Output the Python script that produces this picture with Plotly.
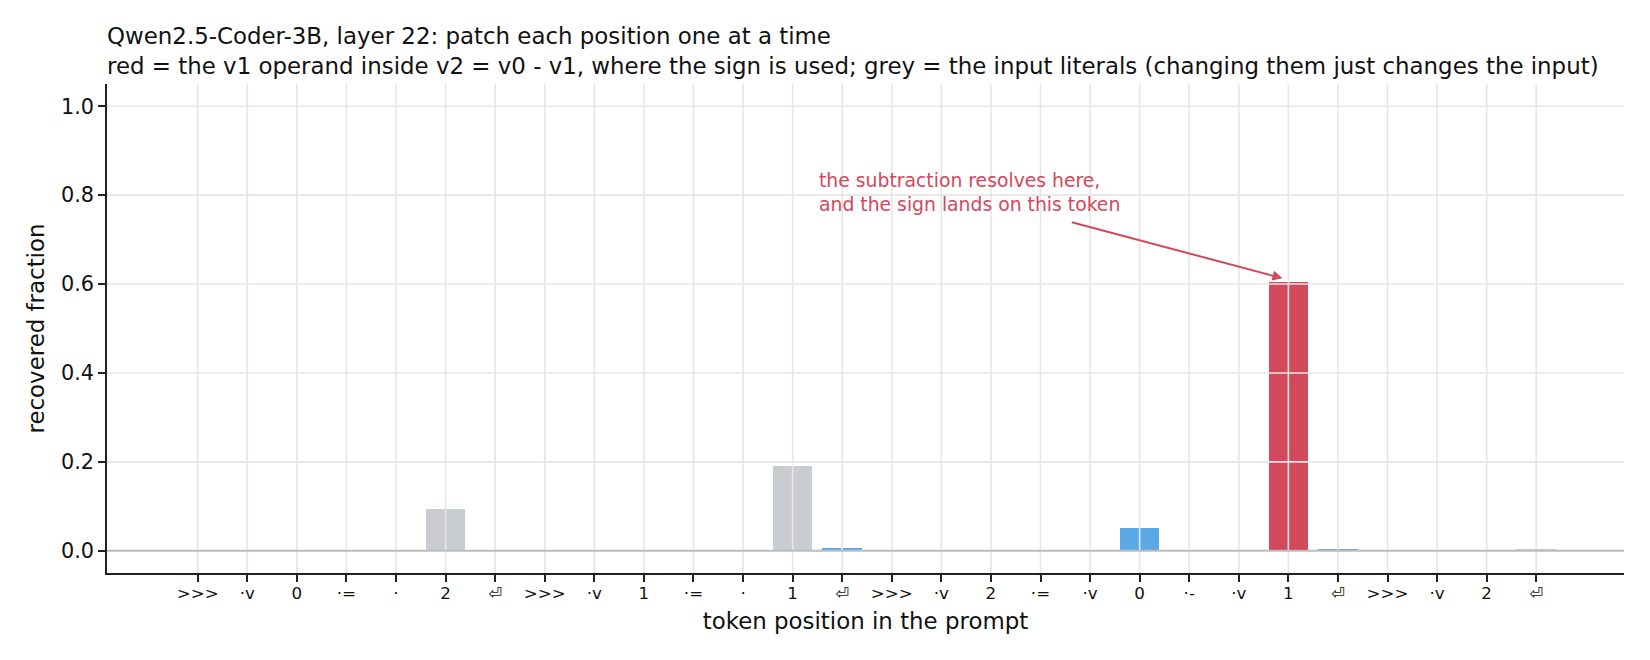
import plotly.graph_objects as go

# token positions in the prompt, one bar each
tokens = [">>>", "·v", "0", "·=", "·", "2", "⏎",
          ">>>", "·v", "1", "·=", "·", "1", "⏎",
          ">>>", "·v", "2", "·=", "·v", "0", "·-", "·v", "1", "⏎",
          ">>>", "·v", "2", "⏎"]
recovered = [0.0, 0.0, 0.0, 0.0, 0.0, 0.094, 0.0,
             0.0, 0.0, 0.0, 0.0, 0.0, 0.190, 0.006,
             0.0, 0.0, 0.0, 0.0, 0.0, 0.051, 0.0, 0.0, 0.604, 0.004,
             0.0, 0.0, 0.0, 0.003]
roles = ["other", "other", "other", "other", "other", "literal", "other",
         "other", "other", "other", "other", "other", "literal", "other",
         "other", "other", "other", "other", "other", "other", "other", "other", "sign", "other",
         "other", "other", "other", "literal"]
y_ticks = [0.0, 0.2, 0.4, 0.6, 0.8, 1.0]

role_colors = {"other": "#5aa9e6", "literal": "#c9ccd1", "sign": "#d1495b"}
RED = "#d1495b"
FONT = "DejaVu Sans"
PAGE_PAD = 8  # browser body margin shifts the figure, compensate in the margins
positions = list(range(len(tokens)))

fig = go.Figure()
fig.add_trace(go.Bar(
    x=positions, y=recovered, width=0.8,
    marker=dict(color=[role_colors[r] for r in roles], line=dict(width=0)),
    hoverinfo="skip",
))

# matplotlib-style grid drawn on top of the bars
grid = dict(color="#e6e6e6", width=1.6)
shapes = []
for p in positions:
    shapes.append(dict(type="line", xref="x", yref="paper", x0=p, x1=p, y0=0, y1=1,
                       line=grid, layer="above"))
for t in y_ticks[1:]:
    shapes.append(dict(type="line", xref="paper", yref="y", x0=0, x1=1, y0=t, y1=t,
                       line=grid, layer="above"))
# zero line
shapes.append(dict(type="line", xref="paper", yref="y", x0=0, x1=1, y0=0, y1=0,
                   line=dict(color="#bdbdbd", width=2), layer="above"))

fig.update_layout(
    width=1650, height=660,
    margin=dict(l=107 - PAGE_PAD, r=26 + PAGE_PAD, t=84 - PAGE_PAD, b=87 + PAGE_PAD),
    plot_bgcolor="white", paper_bgcolor="white",
    font=dict(family=FONT, size=20, color="#111111"),
    showlegend=False,
    bargap=0,
    shapes=shapes,
    title=dict(
        text="Qwen2.5-Coder-3B, layer 22: patch each position one at a time<br>"
             "red = the v1 operand inside v2 = v0 - v1, where the sign is used; "
             "grey = the input literals (changing them just changes the input)",
        x=0, xref="paper", xanchor="left",
        y=1 - (44 - PAGE_PAD) / 660, yref="container", yanchor="middle",
        font=dict(family=FONT, size=22.9, color="#111111"),
    ),
    xaxis=dict(
        range=[-1.83, 28.77],
        tickmode="array", tickvals=positions, ticktext=tokens,
        tickfont=dict(size=16.7),
        ticks="outside", ticklen=7, tickwidth=1.5, tickcolor="#222222",
        ticklabelstandoff=-3,
        showline=True, linecolor="#222222", linewidth=1.6,
        showgrid=False, zeroline=False,
        title=dict(text="token position in the prompt", font=dict(size=22.9), standoff=11),
    ),
    yaxis=dict(
        range=[-0.05, 1.05],
        tickmode="array", tickvals=y_ticks, ticktext=[f"{t:.1f}" for t in y_ticks],
        tickfont=dict(size=20.8),
        ticks="outside", ticklen=7, tickwidth=1.5, tickcolor="#222222",
        showline=True, linecolor="#222222", linewidth=1.6,
        showgrid=False, zeroline=False,
        title=dict(text="recovered fraction", font=dict(size=22.9), standoff=10),
    ),
)

fig.add_annotation(
    x=12.5, y=0.805, xref="x", yref="y",
    text="the subtraction resolves here,<br>and the sign lands on this token",
    showarrow=False, xanchor="left", yanchor="middle", align="left",
    font=dict(family=FONT, size=18.8, color=RED),
)
fig.add_annotation(
    x=21.88, y=0.613, xref="x", yref="y",
    ax=17.6, ay=0.74, axref="x", ayref="y",
    text="", showarrow=True,
    arrowhead=2, arrowsize=1, arrowwidth=2, arrowcolor=RED,
)

fig.write_html("out.html")
